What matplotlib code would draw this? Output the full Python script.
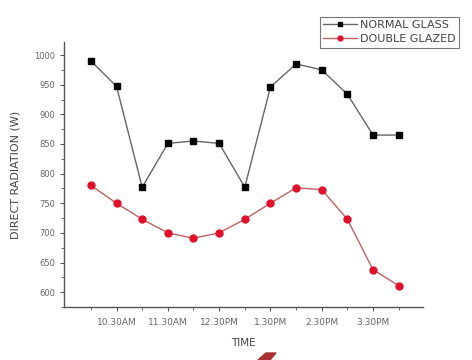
import matplotlib
matplotlib.use("Agg")
import matplotlib.pyplot as plt
from matplotlib.patches import Polygon
from matplotlib.ticker import MultipleLocator, FixedLocator

# half-hour steps from 10.00AM to 4.00PM
slots = list(range(13))
tick_pos = [1, 3, 5, 7, 9, 11]
tick_labels = ["10.30AM", "11.30AM", "12.30PM", "1.30PM", "2.30PM", "3.30PM"]

normal_glass = [990, 947, 777, 851, 855, 851, 777, 946, 985, 975, 934, 865, 865]
double_glazed = [780, 750, 723, 700, 691, 700, 723, 750, 776, 773, 723, 638, 611]

grey = "#555555"
plt.rcParams["font.family"] = ["DejaVu Sans"]

fig = plt.figure(figsize=(4.72, 3.6), dpi=100)
ax = fig.add_axes([64 / 472, 1 - 307 / 360, (423 - 64) / 472, (307 - 42) / 360])

ax.plot(slots, normal_glass, color="#666666", lw=1.0, marker="s", ms=5,
        mfc="black", mec="black", label="NORMAL GLASS")
ax.plot(slots, double_glazed, color="#c06060", lw=1.0, marker="o", ms=5,
        mfc="#e0102a", mec="#e0102a", label="DOUBLE GLAZED")

ax.set_xlim(-1.05, 12.95)
ax.set_ylim(575, 1022)
ax.xaxis.set_major_locator(FixedLocator(tick_pos))
ax.set_xticklabels(tick_labels)
ax.xaxis.set_minor_locator(FixedLocator([0, 2, 4, 6, 8, 10, 12]))
ax.set_yticks(range(600, 1001, 50))
ax.yaxis.set_minor_locator(MultipleLocator(25))

for s in ["top", "right"]:
    ax.spines[s].set_visible(False)
for s in ["left", "bottom"]:
    ax.spines[s].set_color(grey)
    ax.spines[s].set_linewidth(1.0)

ax.tick_params(which="both", direction="out", colors=grey, labelcolor="#666666",
               labelsize=6)
ax.tick_params(axis="x", labelsize=6.5, pad=5)
ax.tick_params(which="major", length=3)
ax.tick_params(which="minor", length=2)

ax.set_xlabel("TIME", fontsize=7.5, color="#444444", labelpad=8)
ax.set_ylabel("DIRECT RADIATION (W)", fontsize=8, color="#444444", labelpad=10)

leg = fig.legend(loc="upper left", bbox_to_anchor=(320 / 472, 1 - 17 / 360),
                 fontsize=8, frameon=True, fancybox=False, borderpad=0.3,
                 borderaxespad=0, handlelength=3.0, handletextpad=0.3,
                 labelspacing=0.35, markerscale=0.7)
leg.get_frame().set_edgecolor(grey)
leg.get_frame().set_linewidth(0.8)
for t in leg.get_texts():
    t.set_color("#444444")

# cut-off red mark at the bottom edge
fig.patches.append(Polygon([(258 / 472, 0), (266 / 472, 7 / 360),
                            (276 / 472, 7 / 360), (270 / 472, 0)],
                           closed=True, transform=fig.transFigure,
                           color="#a83232"))

fig.savefig("out.png", dpi=100)
